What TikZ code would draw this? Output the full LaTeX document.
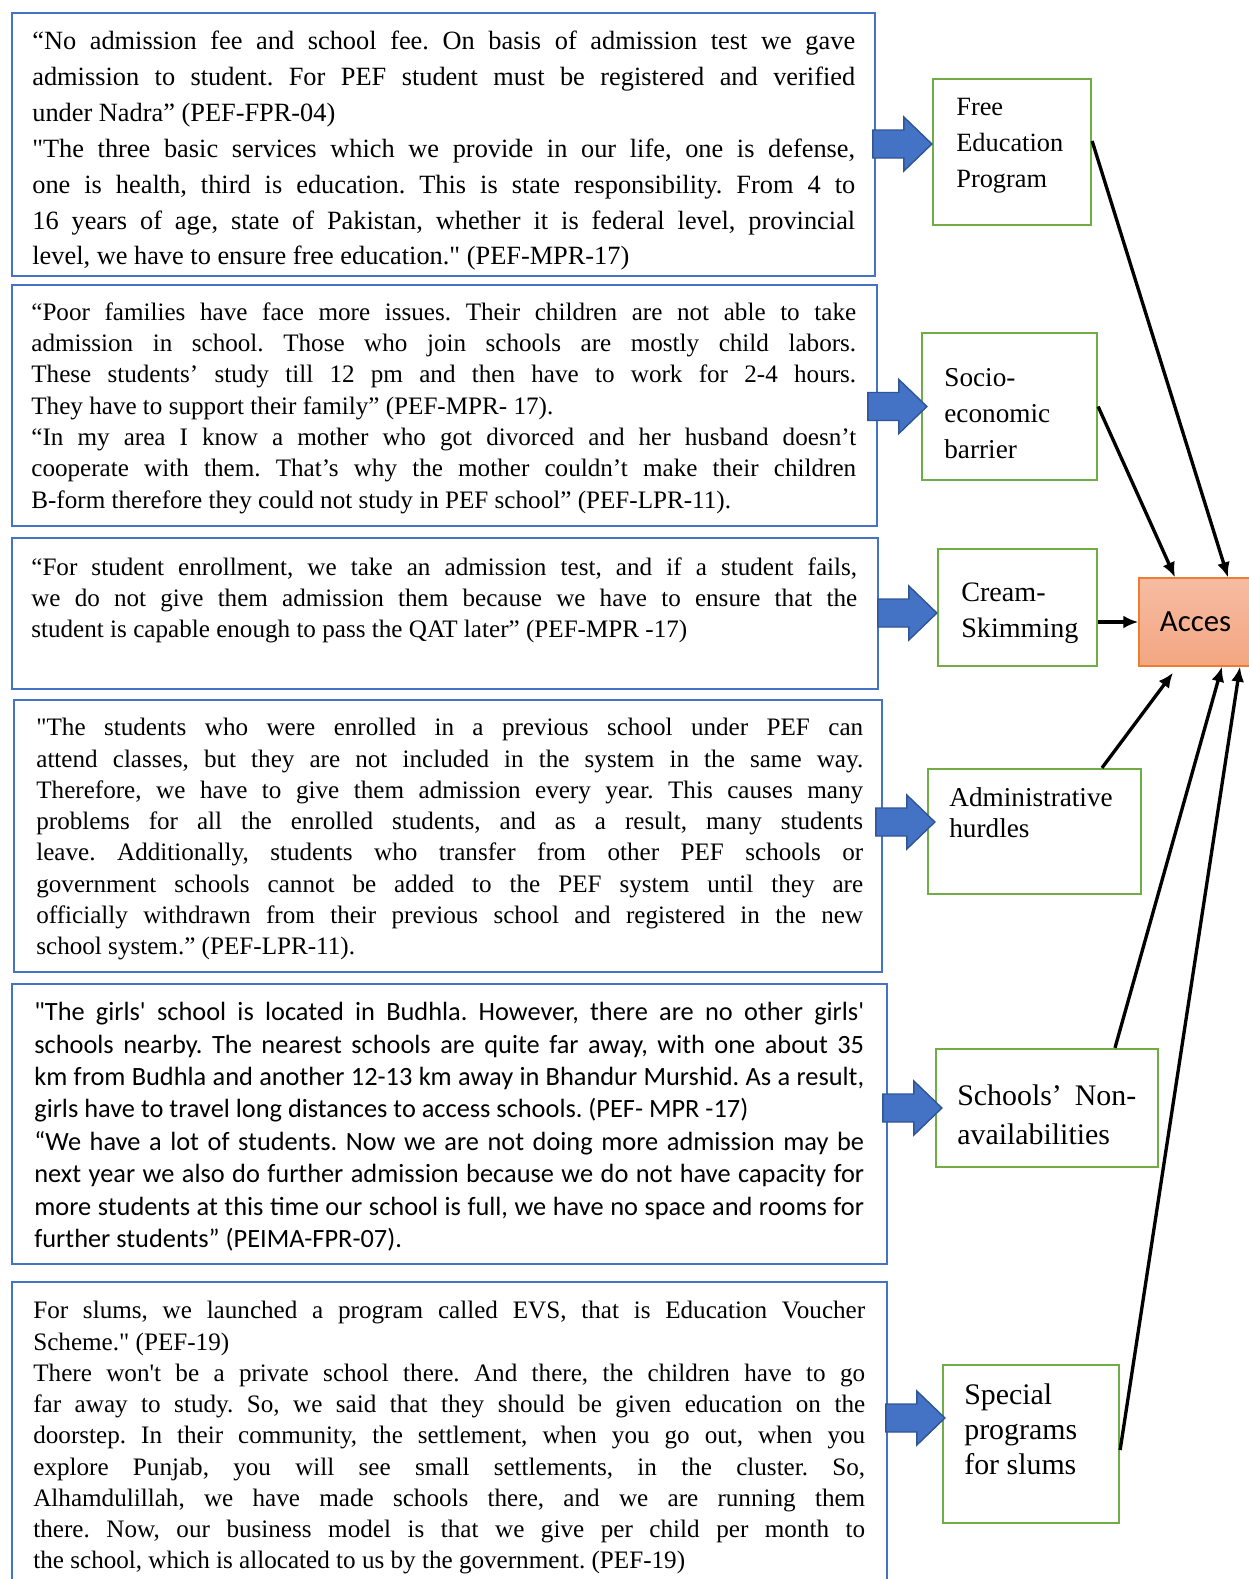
\documentclass[tikz,border=0pt]{standalone}
\usepackage{fontspec}
\setmainfont{Liberation Serif}[Ligatures=TeXOff]
\newfontfamily\calibri{Carlito}
\usetikzlibrary{arrows.meta,positioning,calc}

\definecolor{quoteblue}{HTML}{4472C4}
\definecolor{arrowblue}{HTML}{4472C4}
\definecolor{arrowedge}{HTML}{2F5597}
\definecolor{factorgreen}{HTML}{70AD47}
\definecolor{accesedge}{HTML}{ED7D31}
\definecolor{accestop}{RGB}{246,188,162}
\definecolor{accesbottom}{RGB}{244,166,130}

\tikzset{
  quotebox/.style={draw=quoteblue, line width=1pt, anchor=north west, inner sep=0pt},
  quotetext/.style={anchor=north west, inner sep=0pt, align=justify},
  factorbox/.style={draw=factorgreen, line width=1.3pt, inner sep=0pt},
  factortext/.style={anchor=north west, inner sep=0pt, align=left},
  accesbox/.style={draw=accesedge, line width=0.8pt, top color=accestop, bottom color=accesbottom, inner sep=0pt},
  blockarr/.style={fill=arrowblue, draw=arrowedge, line width=0.8pt, line join=miter},
  link/.style={line width=1.9pt, -{Latex[length=0.3cm,width=0.26cm]}},
}

% block arrow ending at the given point
\newcommand{\blockarrow}[1]{%
  \filldraw[blockarr] #1 -- ++(-28,-27) -- ++(0,13) -- ++(-31,0)
    -- ++(0,28) -- ++(31,0) -- ++(0,13) -- cycle;}

\frenchspacing
\begin{document}
\begin{tikzpicture}[x=0.02cm, y=-0.02cm]
\useasboundingbox (0,0) rectangle (1248,1579);

% quote boxes
\node[quotebox, minimum width=17.26cm, minimum height=5.26cm] (q1) at (11,12) {};
\node[quotebox, minimum width=17.3cm, minimum height=4.82cm] (q2) at (11,284) {};
\node[quotebox, minimum width=17.32cm, minimum height=3.02cm] (q3) at (11,537) {};
\node[quotebox, minimum width=17.36cm, minimum height=5.44cm] (q4) at (13,699) {};
\node[quotebox, minimum width=17.5cm, minimum height=5.6cm] (q5) at (11,983) {};
\node[quotebox, minimum width=17.5cm, minimum height=6.4cm] (q6) at (11,1281) {};

\node[quotetext, text width=16.46cm, font=\fontsize{15}{20.4}\selectfont] (t1) at (32,31) {\tolerance=10000
“No admission fee and school fee. On basis of admission test we gave\linebreak
admission to student. For PEF student must be registered and verified\linebreak
under Nadra” (PEF-FPR-04)\par
"The three basic services which we provide in our life, one is defense,\linebreak
one is health, third is education. This is state responsibility. From 4 to\linebreak
16 years of age, state of Pakistan, whether it is federal level, provincial\linebreak
level, we have to ensure free education." (PEF-MPR-17)};

\node[quotetext, text width=16.5cm, font=\fontsize{14.3}{17.85}\selectfont] (t2) at (31,302) {\tolerance=10000
“Poor families have face more issues. Their children are not able to take\linebreak
admission in school. Those who join schools are mostly child labors.\linebreak
These students’ study till 12 pm and then have to work for 2-4 hours.\linebreak
They have to support their family” (PEF-MPR- 17).\par
“In my area I know a mother who got divorced and her husband doesn’t\linebreak
cooperate with them. That’s why the mother couldn’t make their children\linebreak
B-form therefore they could not study in PEF school” (PEF-LPR-11).};

\node[quotetext, text width=16.52cm, font=\fontsize{14.3}{17.85}\selectfont] (t3) at (31,557) {\tolerance=10000
“For student enrollment, we take an admission test, and if a student fails,\linebreak
we do not give them admission them because we have to ensure that the\linebreak
student is capable enough to pass the QAT later” (PEF-MPR -17)};

\node[quotetext, text width=16.54cm, font=\fontsize{14.3}{17.8}\selectfont] (t4) at (36,718) {\tolerance=10000
"The students who were enrolled in a previous school under PEF can\linebreak
attend classes, but they are not included in the system in the same way.\linebreak
Therefore, we have to give them admission every year. This causes many\linebreak
problems for all the enrolled students, and as a result, many students\linebreak
leave. Additionally, students who transfer from other PEF schools or\linebreak
government schools cannot be added to the PEF system until they are\linebreak
officially withdrawn from their previous school and registered in the new\linebreak
school system.” (PEF-LPR-11).};

\node[quotetext, text width=16.6cm, font=\calibri\fontsize{15}{18.45}\selectfont] (t5) at (34,1002) {\tolerance=10000
"The girls' school is located in Budhla. However, there are no other girls'\linebreak
schools nearby. The nearest schools are quite far away, with one about 35\linebreak
km from Budhla and another 12-13 km away in Bhandur Murshid. As a result,\linebreak
girls have to travel long distances to access schools. (PEF- MPR -17)\par
“We have a lot of students. Now we are not doing more admission may be\linebreak
next year we also do further admission because we do not have capacity for\linebreak
more students at this time our school is full, we have no space and rooms for\linebreak
further students” (PEIMA-FPR-07).};

\node[quotetext, text width=16.64cm, font=\fontsize{14.3}{17.8}\selectfont] (t6) at (33,1301) {\tolerance=10000
For slums, we launched a program called EVS, that is Education Voucher\linebreak
Scheme." (PEF-19)\par
There won't be a private school there. And there, the children have to go\linebreak
far away to study. So, we said that they should be given education on the\linebreak
doorstep. In their community, the settlement, when you go out, when you\linebreak
explore Punjab, you will see small settlements, in the cluster. So,\linebreak
Alhamdulillah, we have made schools there, and we are running them\linebreak
there. Now, our business model is that we give per child per month to\linebreak
the school, which is allocated to us by the government. (PEF-19)};

% factor boxes
\node[factorbox, minimum width=3.16cm, minimum height=2.92cm] (g1) at (1012,152) {};
\node[factorbox, minimum width=3.5cm, minimum height=2.94cm] (g2) at (1009.5,406.5) {};
\node[factorbox, minimum width=3.18cm, minimum height=2.34cm] (g3) at (1017.5,607.5) {};
\node[factorbox, minimum width=4.26cm, minimum height=2.5cm] (g4) at (1034.5,831.5) {};
\node[factorbox, minimum width=4.44cm, minimum height=2.36cm] (g5) at (1047,1108) {};
\node[factorbox, minimum width=3.52cm, minimum height=3.16cm] (g6) at (1031,1444) {};

\node[factortext, font=\fontsize{15}{20.6}\selectfont] (f1) at (956,98) {Free\\Education\\Program};
\node[factortext, font=\fontsize{15.5}{20.6}\selectfont] (f2) at (944,368) {Socio-\\economic\\barrier};
\node[factortext, font=\fontsize{16}{20.1}\selectfont] (f3) at (961,583) {Cream-\\Skimming};
\node[factortext, font=\fontsize{15.5}{17.8}\selectfont] (f4) at (949,787) {Administrative\\hurdles};
\node[quotetext, text width=3.58cm, font=\fontsize{17}{22.4}\selectfont] (f5) at (957,1084) {\tolerance=10000
Schools’ Non-\linebreak availabilities};
\node[factortext, font=\fontsize{17}{20.1}\selectfont] (f6) at (964,1383) {Special\\programs\\for slums};

% access box
\node[accesbox, minimum width=2.26cm, minimum height=1.76cm, font=\calibri\fontsize{17.5}{20}\selectfont] (acc) at (1195.5,622) {Acces};

% block arrows
\blockarrow{([yshift=0.16cm]g1.west)}
\blockarrow{([xshift=0.12cm]g2.west)}
\blockarrow{([yshift=-0.11cm]g3.west)}
\blockarrow{([xshift=0.16cm,yshift=0.19cm]g4.west)}
\blockarrow{([xshift=0.14cm]g5.west)}
\blockarrow{([xshift=0.06cm,yshift=0.52cm]g6.west)}

% links to access
\draw[link] ([yshift=0.22cm]g1.east) -- ([xshift=0.65cm]acc.north);
\draw[link] (g2.east) -- ([xshift=-0.41cm]acc.north);
\draw[link] (g3.east |- acc.west) -- (acc.west);
\draw[link] ([xshift=1.35cm]g4.north) -- ([xshift=-0.45cm,yshift=-0.12cm]acc.south);
\draw[link] ([xshift=1.36cm]g5.north) -- ([xshift=0.53cm]acc.south);
\draw[link] ([yshift=-0.12cm]g6.east) -- ([xshift=0.89cm]acc.south);
\end{tikzpicture}
\end{document}
